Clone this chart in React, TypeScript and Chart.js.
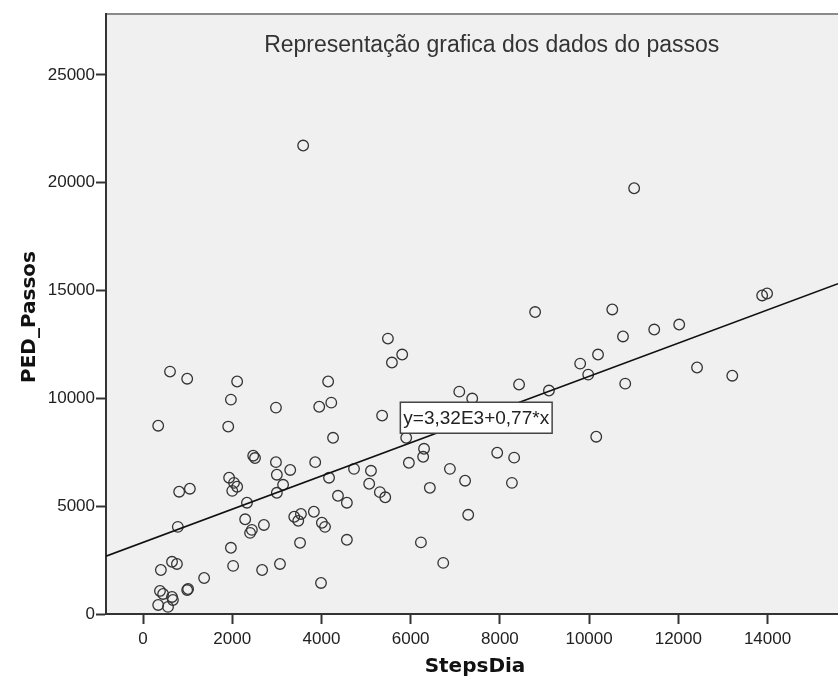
import React, { useEffect, useRef } from "react";
import { Chart, registerables } from "chart.js";

Chart.register(...registerables);

const CHART_TITLE = "Representação grafica dos dados do passos";
const X_TITLE = "StepsDia";
const Y_TITLE = "PED_Passos";
const EQUATION_LABEL = "y=3,32E3+0,77*x";
const INTERCEPT = 3320;
const SLOPE = 0.77;
const X_MIN = -830;
const X_MAX = 15580;
const Y_MIN = 0;
const Y_MAX = 27820;
const X_TICKS = [0, 2000, 4000, 6000, 8000, 10000, 12000, 14000];
const Y_TICKS = [0, 5000, 10000, 15000, 20000, 25000];
const LABEL_AT_X = 7470;
const LABEL_AT_Y = 9100;

const stepsDia = [
  3590, 11010, 13880, 13990, 10520, 11460, 12020, 10760, 8790, 9800,
  10200, 9980, 9100, 10810, 12420, 13210, 10160, 5490, 5810, 5580,
  8430, 7090, 7380, 5360, 5900, 6300, 6280, 5960, 7940, 8320,
  6880, 7220, 8270, 6430, 4730, 5110, 5070, 5310, 5430, 4170,
  4370, 4570, 7290, 4570, 6230, 6730, 605, 990, 2110, 1970,
  340, 1910, 2980, 4150, 3950, 4220, 4260, 2470, 2510, 2980,
  3860, 3300, 3000, 3140, 3000, 1930, 2040, 2110, 2000, 810,
  1050, 2330, 2290, 2440, 2400, 2710, 780, 1970, 2020, 2670,
  3070, 1370, 650, 760, 400, 990, 1010, 380, 450, 650,
  670, 340, 560, 3830, 3390, 3540, 3480, 4010, 4080, 3520,
  3990,
];

const pedPassos = [
  21720, 19740, 14770, 14860, 14120, 13190, 13420, 12870, 14000, 11610,
  12030, 11100, 10360, 10680, 11430, 11050, 8220, 12770, 12030, 11660,
  10640, 10310, 9990, 9200, 8170, 7660, 7290, 7010, 7480, 7250,
  6730, 6180, 6080, 5850, 6730, 6640, 6040, 5650, 5410, 6320,
  5480, 5160, 4600, 3440, 3320, 2370, 11240, 10910, 10780, 9940,
  8730, 8690, 9570, 10780, 9610, 9800, 8170, 7340, 7230, 7040,
  7040, 6680, 6460, 5990, 5620, 6320, 6080, 5900, 5710, 5670,
  5810, 5160, 4390, 3900, 3760, 4130, 4040, 3070, 2230, 2040,
  2320, 1670, 2420, 2320, 2040, 1110, 1160, 1070, 930, 790,
  650, 420, 330, 4740, 4510, 4640, 4320, 4230, 4040, 3300,
  1440,
];

const decorPlugin = {
  id: "spssDecor",
  beforeDraw(chart: any) {
    const { ctx, chartArea } = chart;
    const { left, top, right, bottom } = chartArea;
    ctx.save();
    ctx.fillStyle = "#f0f0f0";
    ctx.fillRect(left, top, right - left, bottom - top);
    ctx.strokeStyle = "#8a8a8a";
    ctx.lineWidth = 2;
    ctx.beginPath();
    ctx.moveTo(left, top);
    ctx.lineTo(right, top);
    ctx.stroke();
    ctx.restore();
  },
  afterDraw(chart: any) {
    const { ctx, chartArea, scales } = chart;
    const { left, top, right, bottom } = chartArea;
    ctx.save();
    ctx.fillStyle = "#333333";
    ctx.font = "23px 'Liberation Sans', Arial, sans-serif";
    ctx.textAlign = "center";
    ctx.textBaseline = "middle";
    ctx.fillText(CHART_TITLE, left + (right - left) * 0.527, top + 32);

    ctx.fillStyle = "#111111";
    ctx.font = "bold 20px 'DejaVu Sans', sans-serif";
    ctx.fillText(X_TITLE, (left + right) / 2 + 3, 667);
    ctx.save();
    ctx.translate(30, (top + bottom) / 2 + 3);
    ctx.rotate(-Math.PI / 2);
    ctx.fillText(Y_TITLE, 0, 0);
    ctx.restore();

    const cx = scales.x.getPixelForValue(LABEL_AT_X);
    const cy = scales.y.getPixelForValue(LABEL_AT_Y);
    ctx.font = "19px 'Liberation Sans', Arial, sans-serif";
    const w = ctx.measureText(EQUATION_LABEL).width + 6;
    const h = 31;
    ctx.fillStyle = "#ffffff";
    ctx.fillRect(cx - w / 2, cy - h / 2, w, h);
    ctx.strokeStyle = "#444444";
    ctx.lineWidth = 1.5;
    ctx.strokeRect(cx - w / 2, cy - h / 2, w, h);
    ctx.fillStyle = "#222222";
    ctx.fillText(EQUATION_LABEL, cx, cy + 1);
    ctx.restore();
  },
};

const tickFont = { size: 17, family: "'Liberation Sans', Arial, sans-serif" };
const gridOpts = {
  drawOnChartArea: false,
  drawTicks: true,
  tickLength: 10,
  tickColor: "#333333",
  tickWidth: 2,
};

export default function App() {
  const canvasRef = useRef<HTMLCanvasElement | null>(null);

  useEffect(() => {
    if (!canvasRef.current) return;
    const points = stepsDia.map((x, i) => ({ x, y: pedPassos[i] }));
    const fitLine = [
      { x: X_MIN, y: INTERCEPT + SLOPE * X_MIN },
      { x: X_MAX, y: INTERCEPT + SLOPE * X_MAX },
    ];
    const chart = new Chart(canvasRef.current, {
      type: "scatter",
      data: {
        datasets: [
          {
            type: "line",
            data: fitLine,
            borderColor: "#111111",
            borderWidth: 1.6,
            pointRadius: 0,
            fill: false,
          } as any,
          {
            data: points,
            pointRadius: 5.3,
            pointBorderWidth: 1.3,
            borderColor: "#333333",
            backgroundColor: "rgba(0,0,0,0)",
            pointBackgroundColor: "rgba(0,0,0,0)",
          },
        ],
      },
      options: {
        responsive: false,
        animation: false,
        layout: { autoPadding: false, padding: { top: 14, right: 0, left: 0, bottom: 0 } },
        plugins: {
          legend: { display: false },
          tooltip: { enabled: false },
          title: { display: false },
        },
        scales: {
          x: {
            type: "linear",
            min: X_MIN,
            max: X_MAX,
            afterBuildTicks(scale: any) {
              scale.ticks = X_TICKS.map((value) => ({ value }));
            },
            afterFit(scale: any) {
              scale.height = 72;
              scale.paddingLeft = 0;
              scale.paddingRight = 0;
            },
            ticks: {
              color: "#222222",
              font: tickFont,
              padding: 5,
              maxRotation: 0,
              autoSkip: false,
              callback: (v: any) => String(v),
            },
            grid: gridOpts,
            border: { display: true, color: "#333333", width: 2 },
          },
          y: {
            type: "linear",
            min: Y_MIN,
            max: Y_MAX,
            afterBuildTicks(scale: any) {
              scale.ticks = Y_TICKS.map((value) => ({ value }));
            },
            afterFit(scale: any) {
              scale.width = 106;
            },
            ticks: {
              color: "#222222",
              font: tickFont,
              padding: 1,
              autoSkip: false,
              callback: (v: any) => String(v),
            },
            grid: gridOpts,
            border: { display: true, color: "#333333", width: 2 },
          },
        },
      },
      plugins: [decorPlugin],
    });
    return () => chart.destroy();
  }, []);

  return (
    <div style={{ position: "fixed", left: 0, top: 0, width: 838, height: 686, background: "#ffffff" }}>
      <canvas ref={canvasRef} width={838} height={686} style={{ display: "block" }} />
    </div>
  );
}
